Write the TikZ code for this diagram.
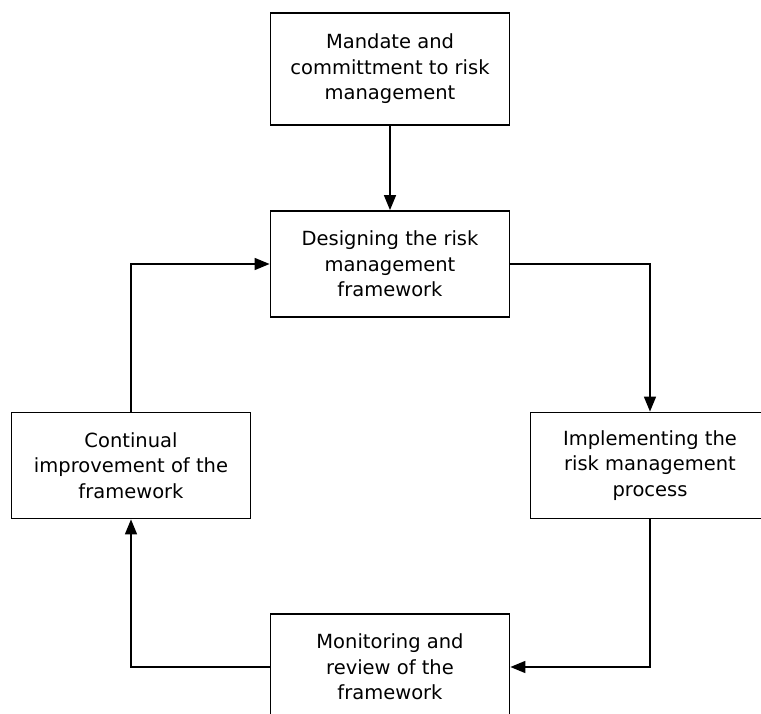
\documentclass[tikz,border=0pt]{standalone}
\usepackage{fontspec}
\setmainfont{DejaVu Sans}
\usetikzlibrary{arrows.meta}
\begin{document}
\begin{tikzpicture}[x=1pt,y=-1pt,
  box/.style={draw=black,line width=1.8pt,fill=white,minimum width=239pt,minimum height=106pt,
    inner sep=0pt,align=center,font=\fontsize{19.5}{25.5}\selectfont},
  conn/.style={draw=black,line width=1.6pt,-{Triangle[length=15pt,width=12pt]}}]
\useasboundingbox (0,0) rectangle (761,714);
\clip (0,0) rectangle (761,714);
\node[box,minimum height=112pt] (mand) at (390,69) {Mandate and\\committment to risk\\management};
\node[box] (des) at (390,264) {Designing the risk\\management\\framework};
\node[box] (cont) at (131,465.5) {Continual\\improvement of the\\framework};
\node[box] (impl) at (650,465.5) {Implementing the\\risk management\\process};
\node[box] (mon) at (390,667) {Monitoring and\\review of the\\framework};
\draw[conn] (mand) -- (des);
\draw[conn] (des.east) -| (impl.north);
\draw[conn] (impl.south) |- (mon.east);
\draw[conn] (mon.west) -| (cont.south);
\draw[conn] (cont.north) |- (des.west);
\end{tikzpicture}
\end{document}
